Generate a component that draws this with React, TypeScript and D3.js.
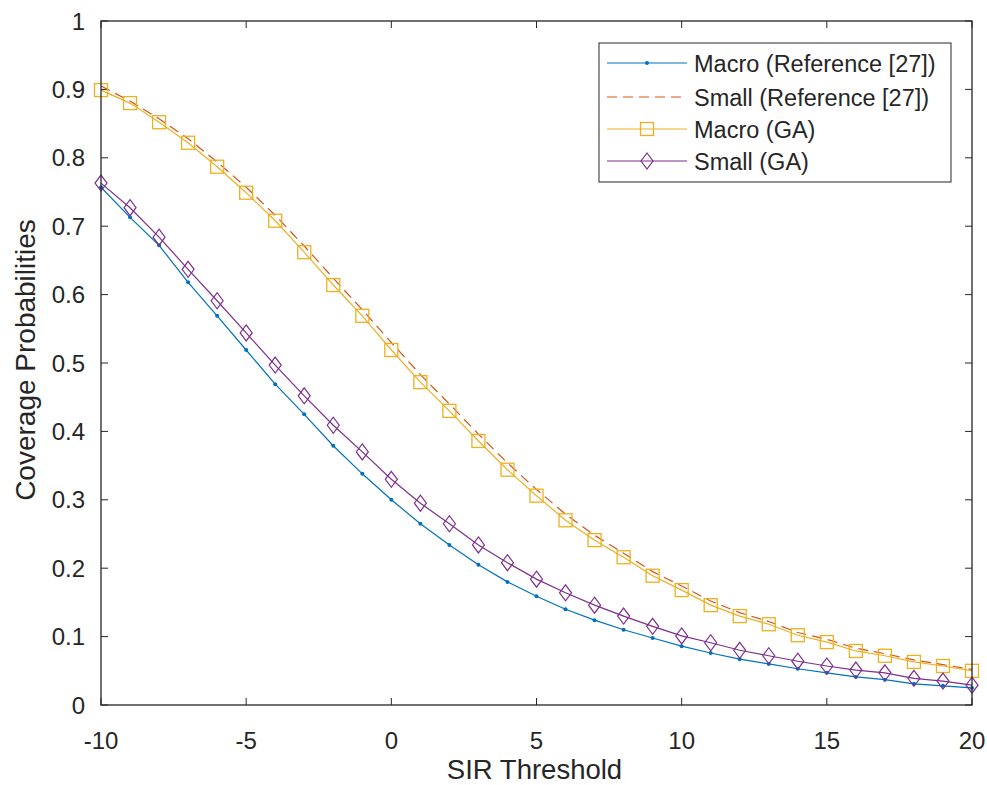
import React from "react";
import * as d3 from "d3";

const xValues = [-10,-9,-8,-7,-6,-5,-4,-3,-2,-1,0,1,2,3,4,5,6,7,8,9,10,11,12,13,14,15,16,17,18,19,20];
const macroRef = [0.757,0.713,0.672,0.618,0.569,0.519,0.469,0.425,0.379,0.338,0.300,0.265,0.234,0.205,0.180,0.159,0.140,0.124,0.110,0.098,0.086,0.076,0.067,0.060,0.053,0.047,0.041,0.037,0.031,0.028,0.025];
const smallRef = [0.905,0.883,0.857,0.828,0.794,0.757,0.716,0.671,0.624,0.578,0.530,0.483,0.440,0.396,0.354,0.315,0.279,0.248,0.222,0.195,0.174,0.152,0.135,0.122,0.106,0.096,0.083,0.075,0.066,0.059,0.052];
const macroGA = [0.899,0.880,0.852,0.822,0.787,0.749,0.708,0.662,0.614,0.569,0.519,0.472,0.430,0.386,0.344,0.306,0.270,0.241,0.216,0.189,0.168,0.146,0.130,0.118,0.102,0.092,0.079,0.072,0.063,0.057,0.050];
const smallGA = [0.763,0.727,0.684,0.637,0.591,0.544,0.497,0.452,0.409,0.370,0.330,0.295,0.265,0.234,0.208,0.184,0.164,0.146,0.130,0.115,0.101,0.091,0.080,0.072,0.064,0.057,0.051,0.047,0.039,0.035,0.029];
const xTicks = [-10,-5,0,5,10,15,20];
const yTicks = [0,0.1,0.2,0.3,0.4,0.5,0.6,0.7,0.8,0.9,1];
const legendLabels = ["Macro (Reference [27])","Small (Reference [27])","Macro (GA)","Small (GA)"];

const COLORS = { blue: "#0072BD", red: "#D95319", yellow: "#EDB120", purple: "#7E2F8E" };
const FONT = "'Liberation Sans', Arial, sans-serif";

export default function App() {
  const W = 987, H = 785;
  const L = 101, R = 972, T = 21, B = 705;
  const x = d3.scaleLinear().domain([-10, 20]).range([L, R]);
  const y = d3.scaleLinear().domain([0, 1]).range([B, T]);
  const line = d3.line<[number, number]>().x(d => x(d[0])).y(d => y(d[1]));
  const pts = (vals: number[]) => xValues.map((v, i) => [v, vals[i]] as [number, number]);

  const diamond = (cx: number, cy: number) => `M${cx},${cy-8}L${cx+6},${cy}L${cx},${cy+8}L${cx-6},${cy}Z`;

  const legX0 = 607, legX1 = 687, legTx = 694;
  const legY = [63, 97, 129, 161];

  return (
    <svg width={W} height={H} style={{ position: "absolute", left: 0, top: 0, background: "#fff" }} fontFamily={FONT}>
      <rect x={0} y={0} width={W} height={H} fill="#fff" />
      <defs>
        <clipPath id="plotclip"><rect x={L - 10} y={T - 10} width={R - L + 20} height={B - T + 20} /></clipPath>
      </defs>
      {xTicks.map(t => (
        <g key={"xt" + t}>
          <line x1={x(t)} x2={x(t)} y1={B} y2={B - 7} stroke="#262626" strokeWidth={1} />
          <line x1={x(t)} x2={x(t)} y1={T} y2={T + 7} stroke="#262626" strokeWidth={1} />
          <text x={x(t)} y={B + 44} textAnchor="middle" fontSize={24} fill="#262626">{t}</text>
        </g>
      ))}
      {yTicks.map(t => (
        <g key={"yt" + t}>
          <line x1={L} x2={L + 7} y1={y(t)} y2={y(t)} stroke="#262626" strokeWidth={1} />
          <line x1={R} x2={R - 7} y1={y(t)} y2={y(t)} stroke="#262626" strokeWidth={1} />
          <text x={L - 16} y={y(t) + 8.5} textAnchor="end" fontSize={24} fill="#262626">{t === 0 || t === 1 ? String(t) : t.toFixed(1)}</text>
        </g>
      ))}
      <g clipPath="url(#plotclip)">
        <path d={line(pts(macroRef)) || ""} fill="none" stroke={COLORS.blue} strokeWidth={1.2} />
        {pts(macroRef).map((p, i) => <circle key={"b" + i} cx={x(p[0])} cy={y(p[1])} r={2} fill={COLORS.blue} />)}
        <path d={line(pts(smallRef)) || ""} fill="none" stroke={COLORS.red} strokeWidth={1.2} strokeDasharray="10,6" />
        <path d={line(pts(macroGA)) || ""} fill="none" stroke={COLORS.yellow} strokeWidth={1.2} />
        {pts(macroGA).map((p, i) => <rect key={"s" + i} x={x(p[0]) - 6.5} y={y(p[1]) - 6.5} width={13} height={13} fill="none" stroke={COLORS.yellow} strokeWidth={1.3} />)}
        <path d={line(pts(smallGA)) || ""} fill="none" stroke={COLORS.purple} strokeWidth={1.2} />
        {pts(smallGA).map((p, i) => <path key={"d" + i} d={diamond(x(p[0]), y(p[1]))} fill="none" stroke={COLORS.purple} strokeWidth={1.2} />)}
      </g>
      <rect x={L} y={T} width={R - L} height={B - T} fill="none" stroke="#262626" strokeWidth={1.3} />
      <text x={(L + R) / 2 - 2} y={779} textAnchor="middle" fontSize={27.5} fill="#262626">SIR Threshold</text>
      <text transform={`translate(35,${(T + B) / 2 - 3}) rotate(-90)`} textAnchor="middle" fontSize={28} fill="#262626">Coverage Probabilities</text>
      <rect x={599} y={43} width={352} height={139} fill="#fff" stroke="#262626" strokeWidth={1} />
      {legendLabels.map((lab, i) => {
        const ly = legY[i];
        const cx = (legX0 + legX1) / 2;
        const col = [COLORS.blue, COLORS.red, COLORS.yellow, COLORS.purple][i];
        return (
          <g key={"lg" + i}>
            <line x1={legX0} x2={legX1} y1={ly} y2={ly} stroke={col} strokeWidth={1.2} strokeDasharray={i === 1 ? "10,6" : undefined} />
            {i === 0 && <circle cx={cx} cy={ly} r={2} fill={col} />}
            {i === 2 && <rect x={cx - 6.5} y={ly - 6.5} width={13} height={13} fill="none" stroke={col} strokeWidth={1.3} />}
            {i === 3 && <path d={diamond(cx, ly)} fill="none" stroke={col} strokeWidth={1.2} />}
            <text x={legTx} y={ly + 9} fontSize={23.5} fill="#262626">{lab}</text>
          </g>
        );
      })}
    </svg>
  );
}
